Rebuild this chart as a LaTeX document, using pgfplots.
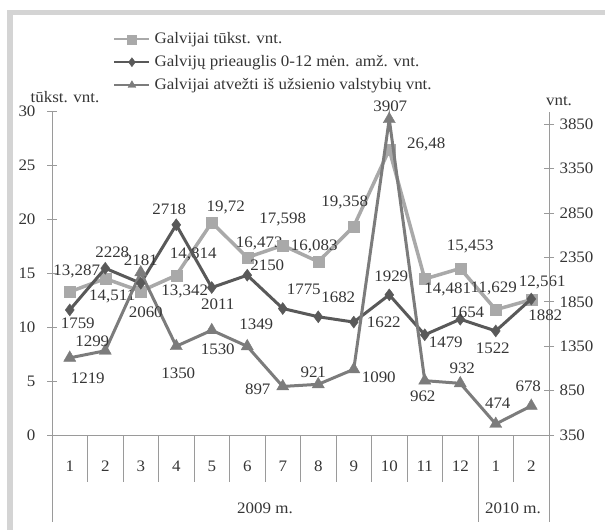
\documentclass[border=0pt]{standalone}
\usepackage{pgfplots}
\pgfplotsset{compat=1.18}
\usepackage{fontspec}
\setmainfont{Liberation Serif}[FakeStretch=1.06]
\definecolor{axisgray}{HTML}{9A9A9A}
\definecolor{framegray}{HTML}{D4D4D4}
\definecolor{sqcol}{HTML}{A9A9A9}
\definecolor{dmcol}{HTML}{595959}
\definecolor{trcol}{HTML}{7C7C7C}
\definecolor{txtcol}{HTML}{353535}
\pgfplotsset{
  sqstyle/.style={color=sqcol, line width=3.5pt, mark=square*, mark size=5.5pt, mark options={line width=0.4pt, fill=sqcol, draw=sqcol}},
  dmstyle/.style={color=dmcol, line width=3pt, mark=diamond*, mark size=6pt, mark options={line width=0.4pt, fill=dmcol, draw=dmcol}},
  trstyle/.style={color=trcol, line width=3pt, mark=triangle*, mark size=7pt, mark options={line width=0.4pt, fill=trcol, draw=trcol}},
  labstyle/.style={
    nodes near coords, point meta=explicit symbolic,
    visualization depends on={\thisrow{dx}\as\labdx},
    visualization depends on={\thisrow{dy}\as\labdy},
    every node near coord/.append style={anchor=center, text=txtcol, inner sep=0pt, xshift=\labdx pt, yshift=\labdy pt}
  },
}
\pgfplotstableread{
x y lab dx dy
1 13.287 13,287 7 20
2 14.511 14,511 7 -18
3 13.342 13,342 44 0
4 14.814 14,814 17 21
5 19.72 19,72 14 15
6 16.473 16,473 12 14
7 17.598 17,598 0 26
8 16.083 16,083 -4 15
9 19.358 19,358 -9 24
10 26.48 26,48 37 5
11 14.481 14,481 23 -10
12 15.453 15,453 10 22
13 11.629 11,629 -2 21
14 12.561 12,561 11 17
}\sqtable
\pgfplotstableread{
x y lab dx dy
1 1759 1759 8 -13
2 2228 2228 7 16
3 2060 2060 5 -29
4 2718 2718 -7 16
5 2011 2011 6 -17
6 2150 2150 20 10
7 1775 1775 21 19
8 1682 1682 20 20
9 1622 1622 30 0
10 1929 1929 2 19
11 1479 1479 21 -7
12 1654 1654 7 7
13 1522 1522 -3 -17
14 1882 1882 14 -16
}\dmtable
\pgfplotstableread{
x y lab dx dy
1 1219 1219 18 -20
2 1299 1299 -13 9
3 2181 2181 0 12
4 1350 1350 2 -27
5 1530 1530 6 -19
6 1349 1349 9 22
7 897 897 -25 -3
8 921 921 -5 12
9 1090 1090 25 -8
10 3907 3907 1 13
11 962 962 -2 -16
12 932 932 2 15
13 474 474 2 21
14 678 678 -3 20
}\trtable
\begin{document}
\fontsize{16}{19}\selectfont
\begin{tikzpicture}[font=\fontsize{16}{19}\selectfont]
\path[use as bounding box] (0pt,0pt) rectangle (605pt,-530pt);
\fill[framegray] (7pt,-10pt) rectangle (605pt,-15pt);
\fill[framegray] (7pt,-10pt) rectangle (13pt,-530pt);
\begin{axis}[
  at={(52pt,-435pt)}, anchor=south west,
  scale only axis, width=497pt, height=323.3pt,
  xmin=0.5, xmax=14.5, ymin=0, ymax=30,
  axis x line*=bottom, axis y line*=left,
  axis line style={axisgray, line width=1pt},
  xtick={1,...,14}, xticklabels={1,2,3,4,5,6,7,8,9,10,11,12,1,2},
  xtick style={draw=none},
  xticklabel style={anchor=center, yshift=-26pt},
  ytick={0,5,...,30},
  tick align=center, major tick length=10pt,
  ytick style={axisgray, line width=1pt},
  yticklabel style={anchor=east, xshift=-6pt},
  tick label style={text=txtcol},
  /pgf/number format/assume math mode=true,
  clip=false,
  legend style={at={(axis description cs:0.1227,1.2496)}, anchor=north west,
    draw=none, fill=none, inner sep=0pt, row sep=7pt, column sep=4pt,
    nodes={inner sep=0pt, text height=12pt, text depth=4pt, anchor=west, text=txtcol}},
  legend cell align=left,
  legend image code/.code={\draw[mark repeat=2,mark phase=2,line width=2.5pt,mark size=4.5pt] plot coordinates {(0pt,0pt) (17.5pt,0pt) (35pt,0pt)};},
]
\addplot[sqstyle, labstyle] table[x=x, y=y, meta=lab] {\sqtable};
\addlegendentry{Galvijai tūkst. vnt.}
\addlegendimage{dmstyle}
\addlegendentry{Galvijų prieauglis 0-12 mėn. amž. vnt.}
\addlegendimage{trstyle}
\addlegendentry{Galvijai atvežti iš užsienio valstybių vnt.}
\end{axis}
\begin{axis}[
  at={(52pt,-435pt)}, anchor=south west,
  scale only axis, width=497pt, height=323.3pt,
  xmin=0.5, xmax=14.5, ymin=350, ymax=3992,
  axis x line=none, axis y line*=right,
  axis line style={axisgray, line width=1pt},
  ytick={350,850,...,3850},
  tick align=center, major tick length=10pt,
  ytick style={axisgray, line width=1pt},
  yticklabel style={anchor=west, text=txtcol},
  /pgf/number format/.cd, assume math mode=true, set thousands separator={}, /pgfplots/.cd,
  clip=false,
]
\addplot[dmstyle, labstyle] table[x=x, y=y, meta=lab] {\dmtable};
\addplot[trstyle, labstyle] table[x=x, y=y, meta=lab] {\trtable};
\end{axis}
\foreach \k in {1,...,11,13} \draw[axisgray, line width=1pt] ({(52+35.5*\k)*1pt},-435pt) -- ++(0pt,-47pt);
\draw[axisgray, line width=1pt] (52pt,-435pt) -- (52pt,-522pt);
\draw[axisgray, line width=1pt] (478pt,-435pt) -- (478pt,-522pt);
\draw[axisgray, line width=1pt] (549pt,-435pt) -- (549pt,-522pt);
\node[text=txtcol] at (65pt,-97pt) {tūkst. vnt.};
\node[text=txtcol] at (559pt,-101pt) {vnt.};
\node[text=txtcol] at (265pt,-508pt) {2009 m.};
\node[text=txtcol] at (513pt,-508pt) {2010 m.};
\end{tikzpicture}
\end{document}
